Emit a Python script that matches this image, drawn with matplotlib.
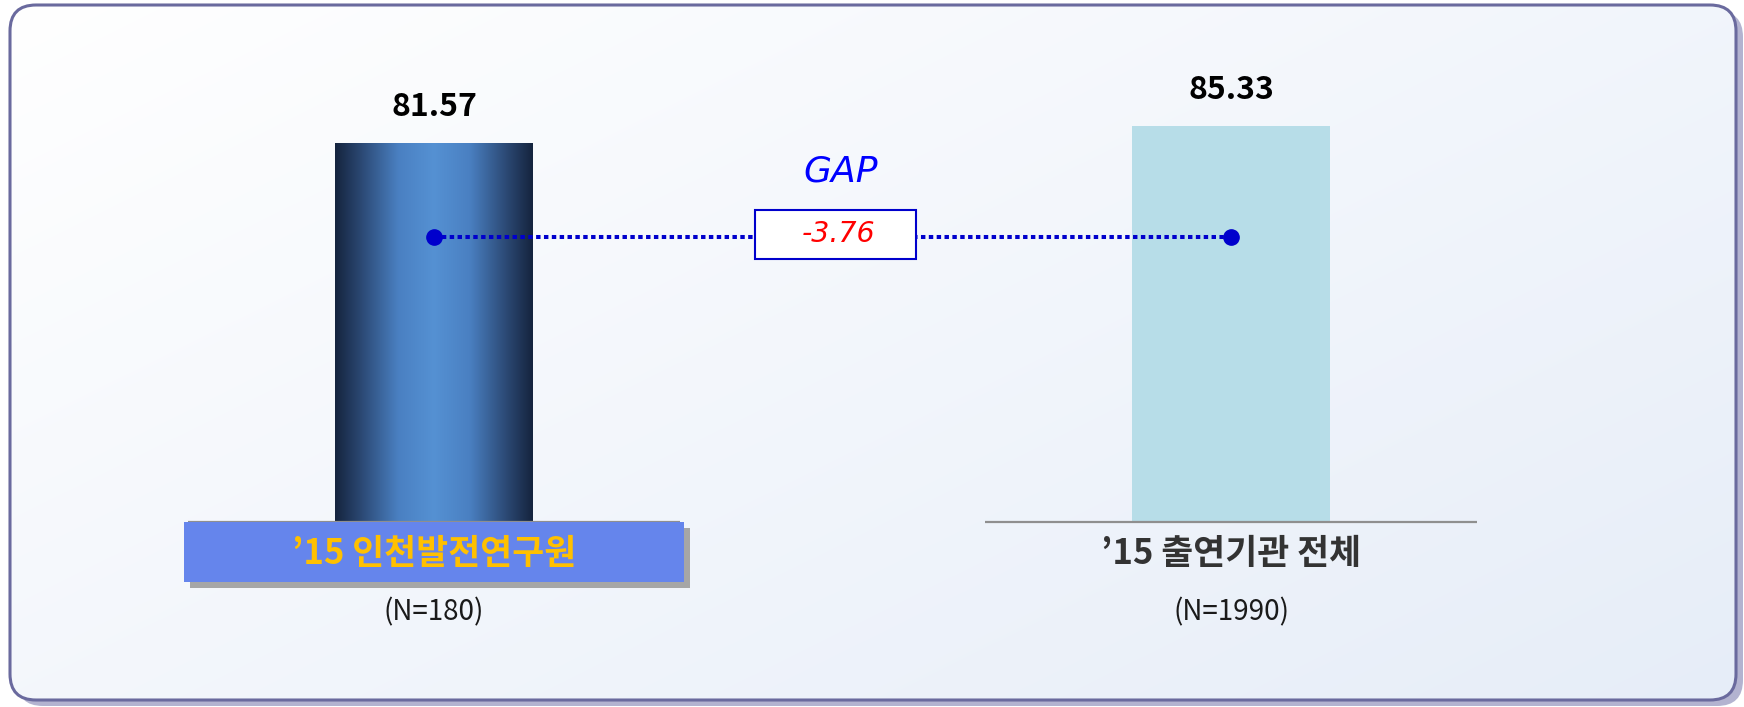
import numpy as np
import matplotlib
matplotlib.use("Agg")
import matplotlib.pyplot as plt
from matplotlib.patches import FancyBboxPatch, Rectangle
from matplotlib.colors import LinearSegmentedColormap
import matplotlib.transforms as mtransforms

# ---------------- data ----------------
categories = ["\u201915 인천발전연구원", "\u201915 출연기관 전체"]
sample_sizes = ["(N=180)", "(N=1990)"]
values = [81.57, 85.33]
gap_title = "GAP"

# ---------------- layout ----------------
W, H = 1744, 707
fig = plt.figure(figsize=(W / 100, H / 100), dpi=100)

KR = ["Noto Sans CJK KR", "DejaVu Sans"]
LAT_IT = ["DejaVu Sans"]

# background panel (pixel coordinates)
bg = fig.add_axes([0, 0, 1, 1])
bg.set_xlim(0, W)
bg.set_ylim(H, 0)
bg.axis("off")

fx, fy, fw, fh = 10, 5, 1726, 695
shadow = FancyBboxPatch((fx + 7, fy + 6), fw, fh,
                        boxstyle="round,pad=0,rounding_size=26",
                        fc="#B3B3D0", ec="none", zorder=0)
bg.add_patch(shadow)
frame_fill = FancyBboxPatch((fx, fy), fw, fh,
                            boxstyle="round,pad=0,rounding_size=26",
                            fc="white", ec="none", zorder=1)
bg.add_patch(frame_fill)
yy, xx = np.mgrid[0:H, 0:W]
t = np.clip(0.55 * xx / W + 0.45 * yy / H, 0, 1)
c0 = np.array([1.0, 1.0, 1.0])
c1 = np.array([0xE6, 0xED, 0xF8]) / 255.0
img = c0[None, None, :] * (1 - t[..., None]) + c1[None, None, :] * t[..., None]
im = bg.imshow(img, extent=(0, W, H, 0), zorder=2, aspect="auto")
im.set_clip_path(frame_fill)
frame_edge = FancyBboxPatch((fx, fy), fw, fh,
                            boxstyle="round,pad=0,rounding_size=26",
                            fc="none", ec="#6A6A9E", lw=2.2, zorder=3)
bg.add_patch(frame_edge)
bg.set_xlim(0, W)
bg.set_ylim(H, 0)

# main chart axes
ax = fig.add_axes([0, 0, 1, 1])
ax.patch.set_alpha(0)
ax.axis("off")
XL = (-0.54454, 1.64366)
YL = (-39.86, 112.48)

x = np.arange(len(values))
bar_w = 0.2484
bars = ax.bar(x, values, width=bar_w, color=["none", "#B7DDE8"], zorder=2)

# cylinder-like gradient for first bar
cmap = LinearSegmentedColormap.from_list(
    "cyl",
    [(0.0, "#15243E"), (0.13, "#2B4873"), (0.32, "#4A80C2"),
     (0.5, "#5591D3"), (0.68, "#4A80C2"), (0.87, "#2B4873"), (1.0, "#15243E")])
b0 = bars[0]
grad = np.linspace(0, 1, 256)[None, :]
gim = ax.imshow(grad, cmap=cmap, aspect="auto", zorder=2,
                extent=(b0.get_x(), b0.get_x() + b0.get_width(), 0, b0.get_height()))
gim.set_clip_path(b0)

# baselines
ax.hlines(np.zeros(len(x)), x - 0.309, x + 0.309, color="#8F8F8F", lw=1.6, zorder=3)

# highlighted label box for first category
box_half = 0.3137
box_h = 12.93
off = mtransforms.ScaledTranslation(6 / 100, -6 / 100, fig.dpi_scale_trans)
ax.add_patch(Rectangle((x[0] - box_half, -box_h), 2 * box_half, box_h,
                       fc="#A6A6A6", ec="none", zorder=3,
                       transform=ax.transData + off))
ax.add_patch(Rectangle((x[0] - box_half, -box_h), 2 * box_half, box_h,
                       fc="#6585EC", ec="none", zorder=4))

label_colors = ["#FFC000", "#333333"]
for xi, lab, n, col in zip(x, categories, sample_sizes, label_colors):
    ax.text(xi, -6.68, lab, ha="center", va="center", fontsize=25,
            fontweight="bold", color=col, family=KR, zorder=5)
    ax.text(xi, -19.4, n, ha="center", va="center", fontsize=20,
            color="#1A1A1A", family=KR, zorder=5)

for xi, v in zip(x, values):
    ax.annotate(f"{v:.2f}", (xi, v), xytext=(0, 26), textcoords="offset points",
                ha="center", va="center", fontsize=23, fontweight="bold",
                color="black", family=KR, zorder=5)

# gap connector
gap = values[0] - values[1]
line_y = 61.4
ax.plot(x, [line_y] * len(x), linestyle=(0, (1.1, 0.85)), color="#0000CC",
        lw=2.9, marker="o", ms=11, markerfacecolor="#0000CC",
        markeredgecolor="#0000CC", zorder=4)
mid = x.mean()
ax.add_patch(Rectangle((mid + 0.004 - 0.101, 56.7), 0.202, 10.5,
                       fc="white", ec="#0000CC", lw=1.5, zorder=5))
ax.text(mid + 0.008, 62.0, f"{gap:.2f}", ha="center", va="center",
        fontsize=20.5, style="italic", color="#FF0000",
        family=LAT_IT, zorder=6)
ax.text(mid + 0.01, 75.6, gap_title, ha="center", va="center",
        fontsize=26, style="italic", color="#0000FF",
        family=LAT_IT, zorder=6)

ax.set_xlim(*XL)
ax.set_ylim(*YL)

fig.savefig("out.png", dpi=100)
